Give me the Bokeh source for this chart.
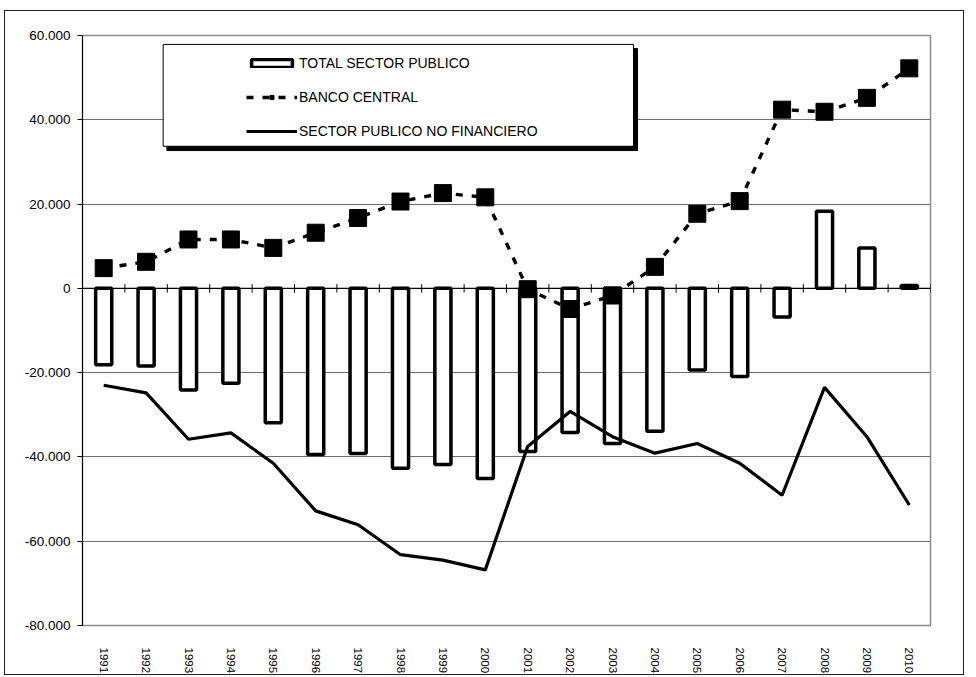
from bokeh.plotting import figure
from bokeh.models import (FactorRange, Range1d, FixedTicker, Span, Legend, LegendItem,
                          BoxAnnotation, ColumnDataSource)
from bokeh.transform import dodge
from bokeh.embed import file_html
from bokeh.resources import INLINE

# ---------------- data ----------------
years = ["1991", "1992", "1993", "1994", "1995", "1996", "1997", "1998", "1999", "2000",
         "2001", "2002", "2003", "2004", "2005", "2006", "2007", "2008", "2009", "2010"]
total_sector_publico = [-18.1, -18.4, -24.1, -22.5, -31.9, -39.4, -39.2, -42.7, -41.8, -45.1,
                        -38.7, -34.2, -36.8, -33.9, -19.4, -20.9, -6.8, 18.3, 9.6, 0.7]
banco_central = [4.8, 6.3, 11.6, 11.6, 9.6, 13.2, 16.7, 20.6, 22.6, 21.6,
                 -0.2, -4.9, -1.7, 5.1, 17.7, 20.7, 42.4, 41.9, 45.2, 52.2]
sector_publico_no_fin = [-23.0, -24.8, -35.8, -34.3, -41.5, -52.8, -56.1, -63.2, -64.5, -66.8,
                         -37.5, -29.2, -35.2, -39.1, -36.8, -41.5, -49.1, -23.5, -35.2, -51.4]
y_ticks = [-80, -60, -40, -20, 0, 20, 40, 60]
y_tick_labels = ["-80.000", "-60.000", "-40.000", "-20.000", "0", "20.000", "40.000", "60.000"]
series_names = ["TOTAL SECTOR PUBLICO", "BANCO CENTRAL", "SECTOR PUBLICO NO FINANCIERO"]

FONT = "Liberation Sans"

src = ColumnDataSource(dict(year=years, tsp=total_sector_publico, bc=banco_central,
                            spnf=sector_publico_no_fin))

p = figure(width=960, height=665, x_range=FactorRange(factors=years),
           y_range=Range1d(-80, 60), output_backend="svg", toolbar_location=None,
           min_border_left=77, min_border_right=35, min_border_top=24, min_border_bottom=46,
           background_fill_color="white", border_fill_color="white")
p.styles = {"border": "1px solid #222222", "margin-left": "4px", "margin-top": "10px"}

p.outline_line_color = "#8c8c8c"
p.outline_line_width = 1.5
p.xgrid.grid_line_color = None
p.ygrid.grid_line_color = "#6e6e6e"
p.ygrid.grid_line_width = 1
p.ygrid.ticker = FixedTicker(ticks=y_ticks)

# y axis
p.yaxis.ticker = FixedTicker(ticks=y_ticks)
p.yaxis.major_label_overrides = {t: l for t, l in zip(y_ticks, y_tick_labels)}
p.yaxis.axis_line_color = "black"
p.yaxis.axis_line_width = 1
p.yaxis.major_tick_line_color = "black"
p.yaxis.major_tick_out = 5
p.yaxis.major_tick_in = 0
p.yaxis.minor_tick_line_color = None
p.yaxis.major_label_standoff = 7
p.yaxis.major_label_text_font = FONT
p.yaxis.major_label_text_font_size = "13.5px"
p.yaxis.major_label_text_color = "black"

# x axis (labels at the bottom)
p.xaxis.axis_line_color = None
p.xaxis.major_tick_line_color = None
p.xaxis.major_label_orientation = "vertical"
p.xaxis.major_label_standoff = 16
p.xaxis.major_label_text_font = FONT
p.xaxis.major_label_text_font_size = "11.5px"
p.xaxis.major_label_text_color = "black"

# zero axis line with tick marks between categories
p.add_layout(Span(location=0, dimension="width", line_color="black", line_width=1.2))

bars = p.vbar(x="year", top="tsp", bottom=0, width=0.38, source=src,
              fill_color="white", line_color="black", line_width=3.5)

p.segment(x0=dodge("year", 0.5, range=p.x_range), x1=dodge("year", 0.5, range=p.x_range),
          y0=-1.0, y1=1.0, source=src, line_color="black", line_width=1)
p.segment(x0=dodge("year", -0.5, range=p.x_range), x1=dodge("year", -0.5, range=p.x_range),
          y0=-1.0, y1=1.0, source=ColumnDataSource(dict(year=years[:1])),
          line_color="black", line_width=1)

spnf_line = p.line(x="year", y="spnf", source=src, line_color="black", line_width=3.2)

bc_line = p.line(x="year", y="bc", source=src, line_color="black", line_width=3.4,
                 line_dash="7 9")
bc_pts = p.scatter(x="year", y="bc", source=src, marker="square", size=17,
                   fill_color="black", line_color="black", line_width=1)

# legend frame with shadow
p.add_layout(BoxAnnotation(left=1.99, right=13.09, top=56.9, bottom=32.7,
                           fill_color="black", fill_alpha=1, line_color="black",
                           line_alpha=1, level="overlay"))
p.add_layout(BoxAnnotation(left=1.903, right=12.995, top=57.88, bottom=33.72,
                           fill_color="white", fill_alpha=1, line_color="black",
                           line_width=1, line_alpha=1, level="overlay"))

legend = Legend(items=[LegendItem(label=series_names[0], renderers=[bars]),
                       LegendItem(label=series_names[1], renderers=[bc_line, bc_pts]),
                       LegendItem(label=series_names[2], renderers=[spnf_line])],
                location=(164, 486), orientation="vertical",
                border_line_color=None, background_fill_alpha=0,
                padding=0, margin=0, spacing=18, glyph_width=51, glyph_height=10,
                label_height=10, label_standoff=2,
                label_text_font=FONT, label_text_font_size="14px",
                label_text_color="black", level="overlay")
p.add_layout(legend, "center")

open("out.html", "w").write(file_html(p, INLINE))
